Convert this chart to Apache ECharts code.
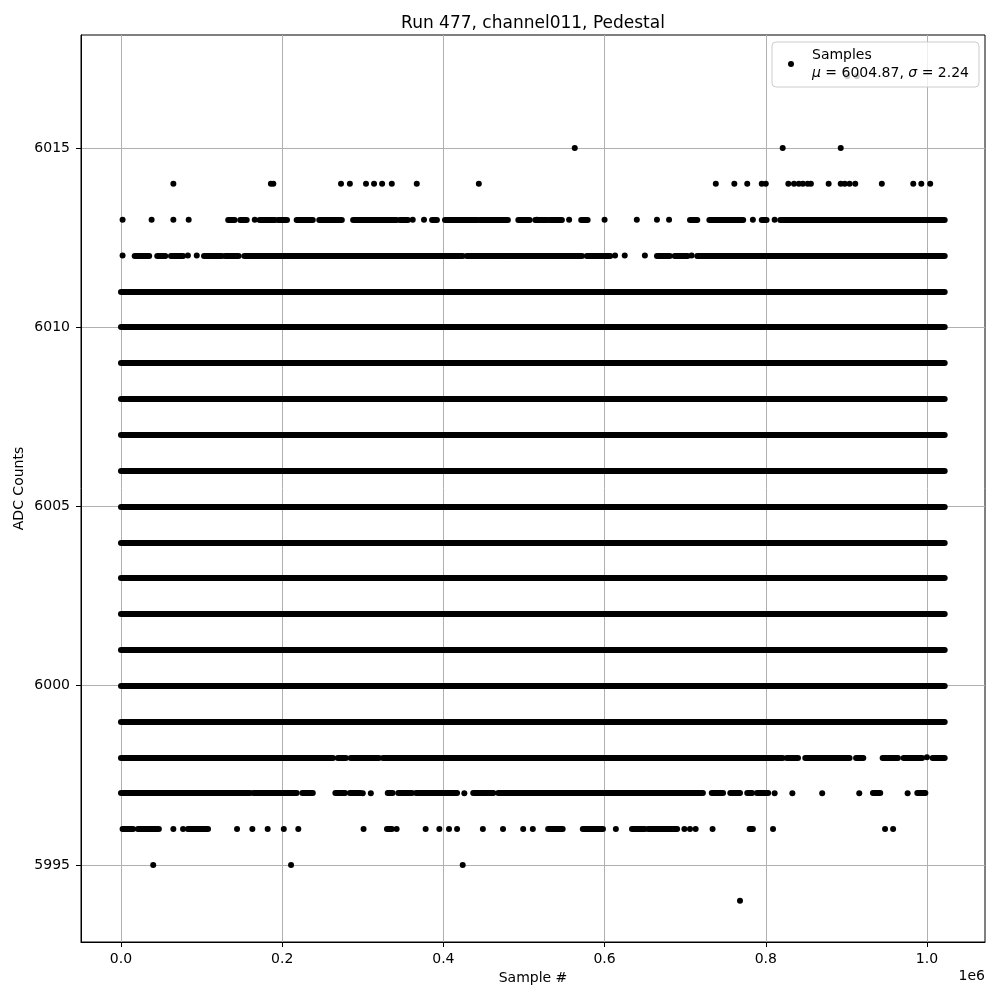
<!DOCTYPE html>
<html>
<head>
<meta charset="utf-8">
<title>Run 477, channel011, Pedestal</title>
<script src="https://cdn.jsdelivr.net/npm/echarts@6/dist/echarts.min.js"></script>
<style>
    html, body { margin: 0; padding: 0; background: #fff; }
    #main { width: 1000px; height: 1000px; }
</style>
</head>
<body>
<div id="main"></div>
<script>
    // x values are sample numbers in units of 1e6 (the axis offset text)
    var xTicks = [0, 0.2, 0.4, 0.6, 0.8, 1.0];
    var yTicks = [5995, 6000, 6005, 6010, 6015];

    // ADC levels filled over the whole run
    var fullLevels = [5999, 6000, 6001, 6002, 6003, 6004, 6005, 6006, 6007, 6008, 6009, 6010, 6011];
    var fullRun = [0, 1.022];

    // stretches of densely packed samples: [first, last]
    var runs6013 = [[0.133, 0.141], [0.148, 0.156], [0.172, 0.191], [0.195, 0.206], [0.218, 0.238], [0.246, 0.274],
        [0.288, 0.342], [0.346, 0.356], [0.386, 0.392], [0.402, 0.442], [0.445, 0.480], [0.493, 0.507],
        [0.514, 0.529], [0.532, 0.547], [0.571, 0.579], [0.706, 0.715], [0.730, 0.772], [0.795, 0.801], [0.818, 1.022]];
    var runs6012 = [[0.017, 0.035], [0.045, 0.055], [0.062, 0.077], [0.103, 0.125], [0.129, 0.146], [0.153, 0.424],
        [0.429, 0.479], [0.481, 0.572], [0.578, 0.607], [0.665, 0.681], [0.687, 0.703], [0.715, 1.022]];
    var runs5998 = [[0, 0.263], [0.269, 0.279], [0.285, 0.320], [0.325, 0.821], [0.826, 0.840], [0.849, 0.904],
        [0.912, 0.921], [0.945, 0.964], [0.971, 0.994], [1.007, 1.022]];
    var runs5997 = [[0, 0.160], [0.164, 0.218], [0.225, 0.238], [0.266, 0.278], [0.284, 0.297], [0.331, 0.337],
        [0.344, 0.361], [0.366, 0.417], [0.437, 0.462], [0.468, 0.722], [0.733, 0.747], [0.756, 0.768],
        [0.777, 0.783], [0.789, 0.803], [0.933, 0.942], [0.988, 0.998]];
    var runs5996 = [[0.002, 0.015], [0.021, 0.030], [0.032, 0.047], [0.083, 0.108], [0.330, 0.336], [0.530, 0.548],
        [0.573, 0.598], [0.634, 0.650], [0.654, 0.690], [0.780, 0.784]];

    // single samples
    var dots6017 = [0.901, 0.913];
    var dots6015 = [0.563, 0.821, 0.893];
    var dots6014 = [0.065, 0.186, 0.189, 0.273, 0.284, 0.304, 0.314, 0.324, 0.336, 0.367, 0.444, 0.738, 0.761,
        0.777, 0.795, 0.800, 0.828, 0.835, 0.841, 0.846, 0.852, 0.856, 0.878, 0.893, 0.898, 0.904, 0.911,
        0.944, 0.983, 0.993, 1.004];
    var dots6013 = [0.002, 0.038, 0.065, 0.084, 0.166, 0.362, 0.376, 0.516, 0.556, 0.600, 0.640, 0.665, 0.680, 0.784, 0.811];
    var dots6012 = [0.002, 0.083, 0.094, 0.613, 0.625, 0.650, 0.708];
    var dots5998 = [1.000];
    var dots5997 = [0.300, 0.310, 0.426, 0.811, 0.833, 0.870, 0.916, 0.976];
    var dots5996 = [0.065, 0.077, 0.144, 0.163, 0.182, 0.202, 0.220, 0.301, 0.342, 0.378, 0.395, 0.407, 0.417,
        0.449, 0.474, 0.499, 0.511, 0.614, 0.699, 0.706, 0.713, 0.734, 0.809, 0.948, 0.958];
    var dots5995 = [0.040, 0.211, 0.424];
    var dots5994 = [0.768];

    var runRows = [[6013, runs6013], [6012, runs6012], [5998, runs5998], [5997, runs5997], [5996, runs5996]];
    var dotRows = [[6017, dots6017], [6015, dots6015], [6014, dots6014], [6013, dots6013], [6012, dots6012],
        [5998, dots5998], [5997, dots5997], [5996, dots5996], [5995, dots5995], [5994, dots5994]];

    var lineData = [];
    fullLevels.forEach(function (y) {
        lineData.push({coords: [[fullRun[0], y], [fullRun[1], y]]});
    });
    runRows.forEach(function (row) {
        row[1].forEach(function (r) {
            lineData.push({coords: [[r[0], row[0]], [r[1], row[0]]]});
        });
    });
    var dotData = [];
    dotRows.forEach(function (row) {
        row[1].forEach(function (x) {
            dotData.push([x, row[0]]);
        });
    });

    var font = 'DejaVu Sans';
    var chart = echarts.init(document.getElementById('main'));
    var option = {
        animation: false,
        backgroundColor: '#fff',
        title: {
            text: 'Run 477, channel011, Pedestal',
            left: 533,
            top: 15,
            padding: 0,
            textAlign: 'center',
            textStyle: {fontFamily: font, fontSize: 17, fontWeight: 'normal', color: '#000'}
        },
        legend: {
            data: ['Samples'],
            right: 21,
            top: 42,
            padding: [4, 10, 5, 16],
            itemWidth: 6,
            itemHeight: 6,
            selectedMode: false,
            backgroundColor: 'rgba(255,255,255,0.8)',
            borderColor: '#cccccc',
            borderWidth: 1,
            borderRadius: 4,
            formatter: function () {
                return 'Samples\n{i|μ} = 6004.87, {i|σ} = 2.24';
            },
            textStyle: {
                fontFamily: font, fontSize: 14, color: '#000', lineHeight: 18,
                padding: [0, 0, 0, 13],
                rich: {i: {fontFamily: font, fontSize: 14, fontStyle: 'italic', color: '#000', lineHeight: 18}}
            }
        },
        grid: {
            left: 81, right: 15, top: 35, bottom: 58,
            show: true, borderColor: '#000', borderWidth: 1,
            outerBoundsMode: 'none'
        },
        xAxis: {
            type: 'value',
            min: -0.0496,
            max: 1.072,
            splitNumber: 5,
            name: 'Sample #',
            nameLocation: 'middle',
            nameGap: 29,
            nameMoveOverlap: false,
            nameTextStyle: {fontFamily: font, fontSize: 14, color: '#000'},
            axisLine: {show: true, onZero: false, lineStyle: {color: '#000', width: 1}},
            axisTick: {show: true, length: 5, customValues: xTicks, lineStyle: {color: '#000'}},
            axisLabel: {
                customValues: xTicks, margin: 10, fontFamily: font, fontSize: 14, color: '#000',
                formatter: function (v) { return v.toFixed(1); }
            },
            splitLine: {show: true, lineStyle: {color: '#b0b0b0', width: 1}}
        },
        yAxis: {
            type: 'value',
            min: 5992.85,
            max: 6018.15,
            splitNumber: 5,
            name: 'ADC Counts',
            nameLocation: 'middle',
            nameGap: 55,
            nameMoveOverlap: false,
            nameTextStyle: {fontFamily: font, fontSize: 14, color: '#000'},
            axisLine: {show: true, onZero: false, lineStyle: {color: '#000', width: 1}},
            axisTick: {show: true, length: 5, customValues: yTicks, lineStyle: {color: '#000'}},
            axisLabel: {
                customValues: yTicks, margin: 11, fontFamily: font, fontSize: 14, color: '#000',
                formatter: function (v) { return String(v); }
            },
            splitLine: {show: true, lineStyle: {color: '#b0b0b0', width: 1}}
        },
        graphic: [{
            type: 'text',
            right: 15,
            top: 969,
            style: {text: '1e6', fontFamily: font, fontSize: 14, fill: '#000'}
        }],
        series: [
            {
                type: 'lines',
                coordinateSystem: 'cartesian2d',
                silent: true,
                data: lineData,
                lineStyle: {color: '#000', width: 6, cap: 'round', opacity: 1}
            },
            {
                name: 'Samples',
                type: 'scatter',
                silent: true,
                symbol: 'circle',
                symbolSize: 6,
                itemStyle: {color: '#000', opacity: 1},
                data: dotData
            }
        ]
    };
    chart.setOption(option);
</script>
</body>
</html>
